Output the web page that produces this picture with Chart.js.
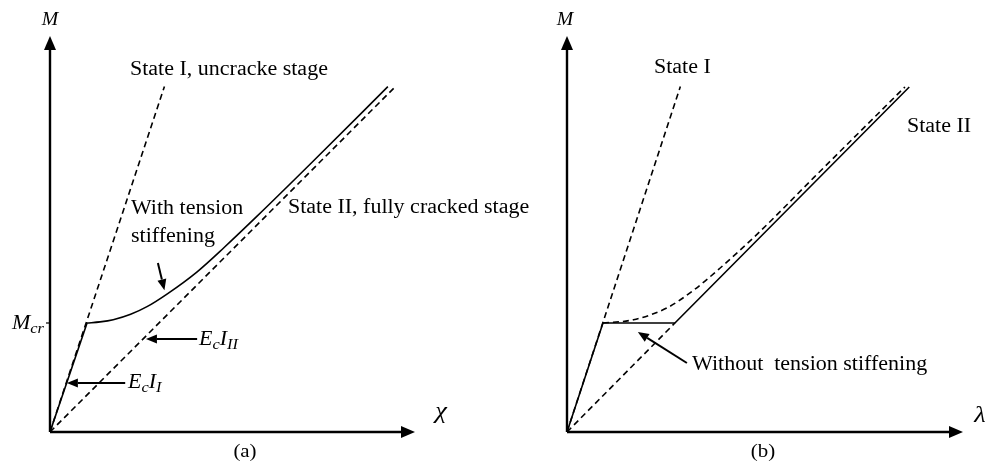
<!DOCTYPE html>
<html>
<head>
<meta charset="utf-8">
<script src="https://cdn.jsdelivr.net/npm/chart.js@4.4.1/dist/chart.umd.min.js"></script>
<style>
  html, body { margin: 0; padding: 0; background: #fff; }
  #wrap { position: relative; width: 988px; height: 461px; overflow: hidden; }
  canvas { position: absolute; top: 0; left: 0; }
</style>
</head>
<body>
<div id="wrap">
  <canvas id="chartA" width="988" height="461"></canvas>
  <canvas id="chartB" width="988" height="461"></canvas>
</div>
<script>
// ---------- data: curvature and moment, moment in units of Mcr ----------
const mcr = 1.0;

// (a) moment - curvature
const stateIA_x = [0, 1.05];
const stateIA_M = [0, 3.17];
const stateIIA_x = [0, 3.17];
const stateIIA_M = [0, 3.17];
const uncrackedA_x = [0, 0.34];
const uncrackedA_M = [0, 1.00];
const withTsA_x = [0.34, 0.46, 0.58, 0.74, 0.89, 1.08, 1.35, 1.60, 1.90, 2.40, 3.10];
const withTsA_M = [1.00, 1.01, 1.03, 1.08, 1.15, 1.27, 1.47, 1.695, 1.98, 2.47, 3.168];

// (b) moment - elongation
const stateIB_x = [0, 1.04];
const stateIB_M = [0, 3.17];
const stateIIB_x = [0, 0.99];
const stateIIB_M = [0, 1.00];
const noTsB_x = [0, 0.33, 0.99, 3.14];
const noTsB_M = [0, 1.00, 1.00, 3.165];
const tsB_x = [0.33, 0.61, 0.92, 1.16, 1.40, 1.75, 2.27, 3.10];
const tsB_M = [1.00, 1.03, 1.14, 1.30, 1.50, 1.82, 2.34, 3.165];

// ---------- helpers ----------
const FONT = '"Liberation Serif", "Times New Roman", serif';
const SX = 1.1; // labels are a bit wide

function toPts(xs, ys) {
  return xs.map((x, i) => ({ x: x, y: ys[i] }));
}

function line(xs, ys, dashed, smooth) {
  return {
    data: toPts(xs, ys),
    borderColor: '#000',
    borderWidth: 1.6,
    borderDash: dashed ? [6, 4] : [],
    pointRadius: 0,
    fill: false,
    tension: 0,
    cubicInterpolationMode: smooth ? 'monotone' : 'default'
  };
}

function runFont(r) {
  const size = r.sub ? 15 : (r.size || 20);
  return (r.italic ? 'italic ' : '') + size + 'px ' + FONT;
}

// draw text made of runs (normal / italic / subscript)
function drawRich(ctx, runs, x, y, align) {
  let w = 0;
  runs.forEach(r => { ctx.font = runFont(r); w += ctx.measureText(r.t).width * SX; });
  let cx = align === 'center' ? x - w / 2 : align === 'right' ? x - w : x;
  ctx.save();
  ctx.fillStyle = '#000';
  ctx.textBaseline = 'middle';
  ctx.textAlign = 'left';
  runs.forEach(r => {
    ctx.font = runFont(r);
    const rw = ctx.measureText(r.t).width * SX;
    ctx.save();
    ctx.translate(cx, y + (r.sub ? 5 : 0));
    ctx.scale(SX, 1);
    ctx.fillText(r.t, 0, 0);
    ctx.restore();
    cx += rw;
  });
  ctx.restore();
}

function drawArrow(ctx, x1, y1, x2, y2, len, half, lw) {
  const a = Math.atan2(y2 - y1, x2 - x1);
  const bx = x2 - len * Math.cos(a), by = y2 - len * Math.sin(a);
  ctx.save();
  ctx.strokeStyle = '#000';
  ctx.fillStyle = '#000';
  ctx.lineWidth = lw;
  ctx.beginPath();
  ctx.moveTo(x1, y1);
  ctx.lineTo(bx, by);
  ctx.stroke();
  ctx.beginPath();
  ctx.moveTo(x2, y2);
  ctx.lineTo(bx + half * Math.sin(a), by - half * Math.cos(a));
  ctx.lineTo(bx - half * Math.sin(a), by + half * Math.cos(a));
  ctx.closePath();
  ctx.fill();
  ctx.restore();
}

// axes with arrow heads, labels and pointer arrows
function diagramPlugin(notes) {
  return {
    id: 'diagram',
    afterDatasetsDraw(chart) {
      const ctx = chart.ctx;
      const xs = chart.scales.x, ys = chart.scales.y;
      const px = v => xs.getPixelForValue(v);
      const py = v => ys.getPixelForValue(v);
      const x0 = px(0), y0 = py(0);

      drawArrow(ctx, x0, y0, px(xs.max), y0, 14, 6, 2.4);
      drawArrow(ctx, x0, y0, x0, py(ys.max), 14, 6, 2.4);

      (notes.ticks || []).forEach(t => {
        ctx.save();
        ctx.strokeStyle = '#000';
        ctx.lineWidth = 1.2;
        ctx.beginPath();
        ctx.moveTo(x0 - 4, py(t.M));
        ctx.lineTo(x0, py(t.M));
        ctx.stroke();
        ctx.restore();
        drawRich(ctx, t.runs, x0 - 6, py(t.M) + 1, 'right');
      });

      (notes.arrows || []).forEach(a => {
        drawArrow(ctx, px(a.from[0]), py(a.from[1]), px(a.to[0]), py(a.to[1]), 11, 4.5, 2);
      });

      (notes.texts || []).forEach(t => {
        drawRich(ctx, t.runs, px(t.at[0]) + (t.dx || 0), py(t.at[1]), t.align || 'left');
      });
    }
  };
}

function makeChart(id, datasets, pad, xMax, yMax, notes) {
  return new Chart(document.getElementById(id), {
    type: 'line',
    data: { datasets: datasets },
    options: {
      responsive: false,
      animation: false,
      layout: { padding: pad },
      plugins: { legend: { display: false }, tooltip: { enabled: false } },
      scales: {
        x: { type: 'linear', min: 0, max: xMax, display: false },
        y: { type: 'linear', min: 0, max: yMax, display: false }
      }
    },
    plugins: [diagramPlugin(notes)]
  });
}

// ---------- (a) ----------
makeChart('chartA', [
  line(stateIA_x, stateIA_M, true, false),
  line(stateIIA_x, stateIIA_M, true, false),
  line(uncrackedA_x, uncrackedA_M, false, false),
  line(withTsA_x, withTsA_M, false, true)
], { left: 50, right: 573, top: 36, bottom: 29 }, 3.349, 3.633, {
  ticks: [{ M: mcr, runs: [{ t: 'M', italic: true }, { t: 'cr', italic: true, sub: true }] }],
  arrows: [
    { from: [0.99, 1.55], to: [1.05, 1.30] },
    { from: [1.35, 0.853], to: [0.88, 0.853] },
    { from: [0.69, 0.45], to: [0.155, 0.45] }
  ],
  texts: [
    { at: [0, 3.775], align: 'center', runs: [{ t: 'M', italic: true, size: 18 }] },
    { at: [0.734, 3.32], runs: [{ t: 'State I, uncracke stage' }] },
    { at: [0.743, 2.046], runs: [{ t: 'With tension' }] },
    { at: [0.743, 1.789], runs: [{ t: 'stiffening' }] },
    { at: [2.183, 2.055], runs: [{ t: 'State II, fully cracked stage' }] },
    { at: [1.367, 0.844], runs: [{ t: 'E', italic: true }, { t: 'c', italic: true, sub: true }, { t: 'I', italic: true }, { t: 'II', italic: true, sub: true }] },
    { at: [0.716, 0.45], runs: [{ t: 'E', italic: true }, { t: 'c', italic: true, sub: true }, { t: 'I', italic: true }, { t: 'I', italic: true, sub: true }] },
    { at: [3.587, 0.19], align: 'center', runs: [{ t: 'χ', italic: true, size: 24 }] },
    { at: [1.789, -0.183], align: 'center', runs: [{ t: '(a)', size: 19 }] }
  ]
});

// ---------- (b) ----------
makeChart('chartB', [
  line(stateIB_x, stateIB_M, true, false),
  line(stateIIB_x, stateIIB_M, true, false),
  line(tsB_x, tsB_M, true, true),
  line(noTsB_x, noTsB_M, false, false)
], { left: 567, right: 25, top: 36, bottom: 29 }, 3.633, 3.633, {
  arrows: [
    { from: [1.10, 0.633], to: [0.65, 0.917] }
  ],
  texts: [
    { at: [0, 3.775], dx: -2, align: 'center', runs: [{ t: 'M', italic: true, size: 18 }] },
    { at: [0.798, 3.339], runs: [{ t: 'State I' }] },
    { at: [3.119, 2.798], runs: [{ t: 'State II' }] },
    { at: [1.147, 0.615], runs: [{ t: 'Without  tension stiffening' }] },
    { at: [3.789, 0.15], align: 'center', runs: [{ t: 'λ', italic: true, size: 24 }] },
    { at: [1.798, -0.183], align: 'center', runs: [{ t: '(b)', size: 19 }] }
  ]
});
</script>
</body>
</html>
